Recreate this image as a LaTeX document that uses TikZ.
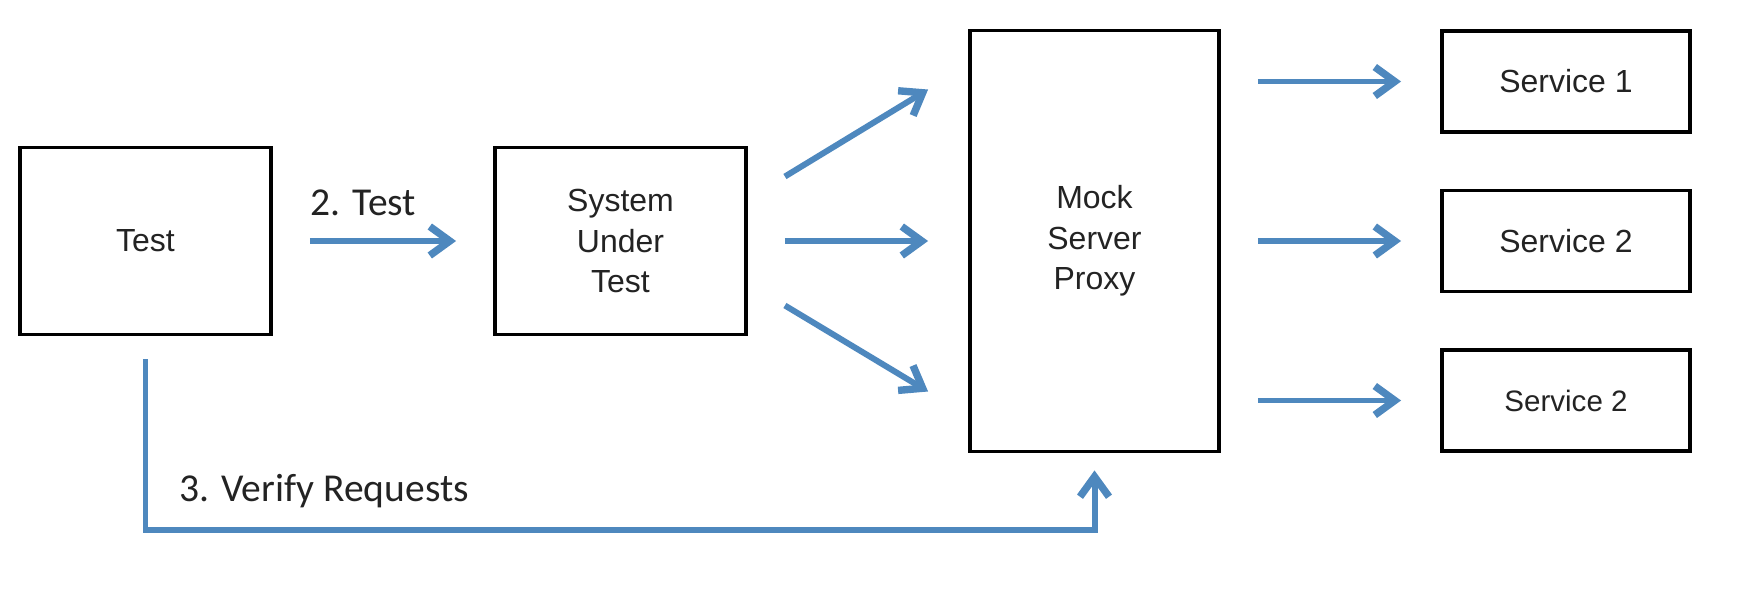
\documentclass[tikz,border=0pt]{standalone}
\usepackage{fontspec}
\setmainfont{Liberation Sans}
\newfontfamily\labelfont{Carlito}
\usetikzlibrary{arrows.meta,calc,positioning}
\definecolor{flowblue}{RGB}{78,136,190}
\definecolor{boxtext}{RGB}{35,35,35}

\begin{document}
\begin{tikzpicture}[
    box/.style={draw=black, line width=2.2pt, fill=white, text=boxtext, align=center,
      font=\fontsize{18.2}{23}\selectfont, inner sep=0pt},
    flow/.style={draw=flowblue, line width=3.4pt,
      -{Straight Barb[length=0.4cm,width=0.58cm,line width=4.2pt]}},
    lbl/.style={font=\labelfont\fontsize{22.5}{26}\selectfont, text=boxtext, anchor=base west, inner sep=0pt}]
    \useasboundingbox (0,0) rectangle (35.16,12.08);
    % boxes
    \node[box, minimum width=5.02cm, minimum height=3.74cm] (test) at (2.91,7.26) {Test};
    \node[box, minimum width=5.02cm, minimum height=3.74cm] (sut) at (12.41,7.26) {System\\Under\\Test};
    \node[box, minimum width=4.98cm, minimum height=8.42cm] (mock) at (21.89,7.26) {Mock\\Server\\Proxy};
    \node[box, minimum width=4.96cm, minimum height=2.02cm] (s1) at (31.32,10.45) {Service 1};
    \node[box, minimum width=4.96cm, minimum height=2.02cm] (s2) at (31.32,7.26) {Service 2};
    \node[box, minimum width=4.96cm, minimum height=2.02cm, font=\fontsize{16.8}{20}\selectfont] (s3) at (31.32,4.07) {Service 2};
    % labels
    \node[lbl] (testlbl) at (6.2,7.78) {2. Test};
    \node[lbl] (verifylbl) at (3.58,2.06) {3. Verify Requests};
    % arrows
    \draw[flow, shorten <=0.74cm, shorten >=0.74cm] (test.east) -- (sut.west);
    \draw[flow] ($(sut.east)+(0.74,1.29)$) -- ($(mock.west)+(-0.8,3.03)$);
    \draw[flow] ($(sut.east)+(0.74,0)$) -- ($(mock.west)+(-0.8,0)$);
    \draw[flow] ($(sut.east)+(0.74,-1.29)$) -- ($(mock.west)+(-0.8,-3.01)$);
    \foreach \s in {s1,s2,s3}
      \draw[flow] ($(mock.east |- \s)+(0.74,0)$) -- ($(\s.west)+(-0.78,0)$);
    \coordinate (low) at (0,1.48);
    \draw[flow] ([yshift=-0.46cm]test.south) -- (test.south |- low) -- (mock.south |- low) -- ([yshift=-0.34cm]mock.south);
\end{tikzpicture}
\end{document}
